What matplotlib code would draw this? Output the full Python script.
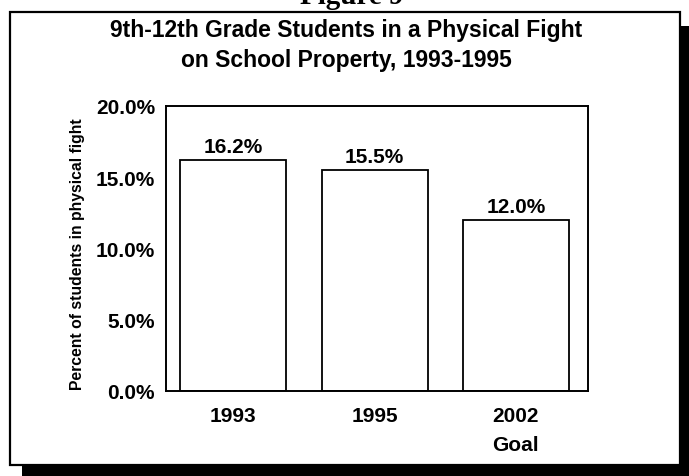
import matplotlib
matplotlib.use("Agg")
import matplotlib.pyplot as plt
from matplotlib.patches import Rectangle

# ---- data ----
categories = ["1993", "1995", "2002\nGoal"]
values = [16.2, 15.5, 12.0]
value_labels = ["16.2%", "15.5%", "12.0%"]
yticks = [0, 5, 10, 15, 20]
ytick_labels = ["0.0%", "5.0%", "10.0%", "15.0%", "20.0%"]
title_lines = ["9th-12th Grade Students in a Physical Fight",
               "on School Property, 1993-1995"]
ylabel = "Percent of students in physical fight"
header = "Figure 9"

W, H = 689, 477
fig = plt.figure(figsize=(W / 100, H / 100), dpi=100)
fig.patch.set_facecolor("white")
plt.rcParams['font.family'] = ['Liberation Sans', 'DejaVu Sans']


def fx(px):
    return px / W


def fy(py):
    return 1 - py / H


# frame with shadow
shadow = Rectangle((fx(22), fy(478)), fx(690) - fx(22), fy(27) - fy(478),
                   transform=fig.transFigure, facecolor="black",
                   edgecolor="none", zorder=0)
fig.patches.append(shadow)
frame = Rectangle((fx(10), fy(466)), fx(680) - fx(10), fy(13) - fy(466),
                  transform=fig.transFigure, facecolor="white",
                  edgecolor="black", linewidth=1.6, zorder=1)
fig.patches.append(frame)

# header (cut off at top, as in the scanned original)
fig.text(fx(352), fy(4), header, ha="center", va="baseline",
         fontsize=21, fontweight="bold", family=["Liberation Serif", "DejaVu Serif"])

# title
fig.text(fx(346), fy(31), title_lines[0], ha="center", va="center",
         fontsize=16.5, fontweight="bold")
fig.text(fx(346), fy(61), title_lines[1], ha="center", va="center",
         fontsize=16.5, fontweight="bold")

ax_left, ax_right, ax_top, ax_bottom = 166, 588, 107, 392
ax = fig.add_axes([fx(ax_left), fy(ax_bottom), fx(ax_right - ax_left),
                   (ax_bottom - ax_top) / H])
ax.set_zorder(2)
ax.patch.set_facecolor("white")

x = list(range(len(categories)))
bars = ax.bar(x, values, width=0.75, color="white", edgecolor="black",
              linewidth=1.3)
ax.set_xlim(-0.475, 2.51)
ax.set_ylim(0, 20)
ax.set_yticks(yticks)
ax.set_yticklabels(ytick_labels, fontsize=15, fontweight="bold")
ax.set_xticks(x)
ax.set_xticklabels(categories, fontsize=15, fontweight="bold", linespacing=1.65,
                   va="top")
ax.tick_params(axis="both", length=0)
ax.tick_params(axis="y", pad=8)
ax.tick_params(axis="x", pad=11)
for s in ax.spines.values():
    s.set_linewidth(1.4)

for xi, v, lab in zip(x, values, value_labels):
    ax.annotate(lab, (xi, v), xytext=(0, 3), textcoords="offset points",
                ha="center", va="bottom", fontsize=15, fontweight="bold")

fig.text(fx(78), fy(254), ylabel, rotation=90, ha="center", va="center",
         fontsize=11.3, fontweight="bold")

fig.savefig("out.png", dpi=100, facecolor="white")
